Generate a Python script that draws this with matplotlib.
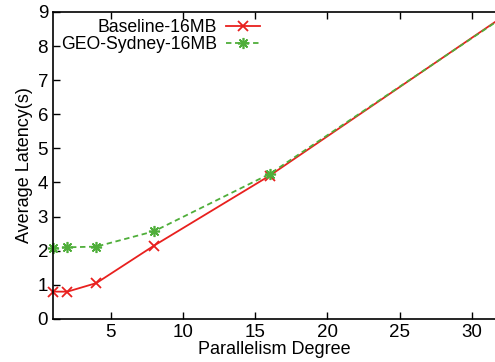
import matplotlib.pyplot as plt

plt.rcParams['font.family'] = ['Liberation Sans', 'DejaVu Sans']

degree = [1, 2, 4, 8, 16, 32]
baseline = [0.8, 0.8, 1.05, 2.15, 4.2, 8.82]
geo_sydney = [2.07, 2.1, 2.12, 2.57, 4.25, 8.8]

fig = plt.figure(figsize=(4.95, 3.62), dpi=100)
ax = fig.add_axes([0.107, 0.119, 0.893, 0.848])

ax.plot(degree, baseline, color='#e8201e', lw=1.3, marker='x', ms=7, mew=1.3,
        label='Baseline-16MB', clip_on=False)
ax.plot(degree, geo_sydney, color='#4fae3a', lw=1.3, ls=(0, (3, 2)), marker=(8, 2, 0),
        ms=8, mew=1.2, label='GEO-Sydney-16MB', clip_on=False)

ax.set_xlim(1, 31.6)
ax.set_ylim(0, 9)
ax.set_xticks([5, 10, 15, 20, 25, 30])
ax.set_yticks(range(0, 10))
ax.tick_params(labelsize=13.5, direction='in', length=5, top=True, width=1)
ax.spines['right'].set_visible(False)
for s in ['left', 'bottom', 'top']:
    ax.spines[s].set_linewidth(1.2)
ax.set_xlabel('Parallelism Degree', fontsize=13, labelpad=0)
ax.set_ylabel('Average Latency(s)', fontsize=13, labelpad=3)

ax.legend(loc='upper left', bbox_to_anchor=(-0.005, 1.01), frameon=False, markerfirst=False,
          fontsize=12.7, handlelength=1.9, handletextpad=0.5, labelspacing=0.0,
          borderaxespad=0.2)

fig.savefig('out.png', dpi=100)
